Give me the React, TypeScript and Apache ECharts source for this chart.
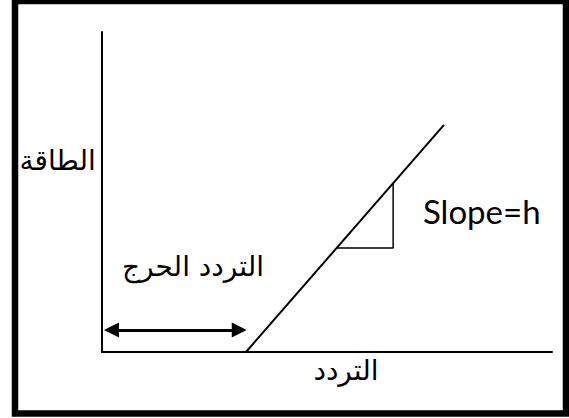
import React, { useEffect, useRef } from "react";
import * as echarts from "echarts";

// Axis ranges (arbitrary units)
const xRange = [0, 10];
const yRange = [0, 10];

// Energy vs frequency line: starts at the critical frequency
const criticalFrequency = 3.2;
const energyLine = [
  [criticalFrequency, 0],
  [7.6, 7.1],
];

// Slope triangle drawn on the line
const slopeTriangle = [
  [5.21, 3.25],
  [6.47, 3.25],
  [6.47, 5.29],
];

// Double arrow marking the critical frequency (arrowhead centres)
const arrowLevel = 0.69;
const arrowStart = 0.21;
const arrowEnd = 3.05;

// Texts
const yAxisLabel = "الطاقة";
const xAxisLabel = "التردد";
const criticalLabel = "التردد الحرج";
const slopeLabel = "Slope=h";

export default function App() {
  const ref = useRef<HTMLDivElement>(null);

  useEffect(() => {
    document.body.style.margin = "0";
    if (!ref.current) return;
    const chart = echarts.init(ref.current, null, { renderer: "svg" });
    const arabicFont = "DejaVu Sans";
    chart.setOption({
      animation: false,
      backgroundColor: "#ffffff",
      grid: { left: 102, top: 32, width: 450, height: 320 },
      xAxis: {
        type: "value",
        min: xRange[0],
        max: xRange[1],
        axisLine: { show: true, onZero: false, lineStyle: { color: "#000", width: 2 } },
        axisTick: { show: false },
        axisLabel: { show: false },
        splitLine: { show: false },
      },
      yAxis: {
        type: "value",
        min: yRange[0],
        max: yRange[1],
        axisLine: { show: true, onZero: false, lineStyle: { color: "#000", width: 2 } },
        axisTick: { show: false },
        axisLabel: { show: false },
        splitLine: { show: false },
      },
      series: [
        {
          type: "line",
          data: energyLine,
          symbol: "none",
          silent: true,
          lineStyle: { color: "#000", width: 2 },
          markLine: {
            silent: true,
            symbol: ["triangle", "triangle"],
            symbolSize: [15, 15],
            label: { show: false },
            lineStyle: { color: "#000", width: 3, type: "solid" },
            emphasis: { disabled: true },
            data: [
              [
                { coord: [arrowStart, arrowLevel] },
                { coord: [arrowEnd, arrowLevel] },
              ],
            ],
          },
        },
        {
          type: "line",
          data: slopeTriangle,
          symbol: "none",
          silent: true,
          lineStyle: { color: "#000", width: 1.5 },
        },
      ],
      graphic: [
        {
          type: "rect",
          shape: { x: 15, y: 1, width: 551, height: 412.5 },
          style: { fill: "none", stroke: "#000", lineWidth: 6.5 },
          silent: true,
        },
        {
          type: "text",
          x: 57.7,
          y: 160,
          style: {
            text: yAxisLabel,
            font: `28px "${arabicFont}"`,
            fill: "#000",
            align: "center",
            verticalAlign: "middle",
          },
        },
        {
          type: "text",
          x: 193,
          y: 266,
          style: {
            text: criticalLabel,
            font: `28px "${arabicFont}"`,
            fill: "#000",
            align: "center",
            verticalAlign: "middle",
          },
        },
        {
          type: "text",
          x: 346,
          y: 370,
          style: {
            text: xAxisLabel,
            font: `28px "${arabicFont}"`,
            fill: "#000",
            align: "center",
            verticalAlign: "middle",
          },
        },
        {
          type: "text",
          x: 423,
          y: 227,
          style: {
            text: slopeLabel,
            font: `33px Lato`,
            fill: "#000",
            align: "left",
            verticalAlign: "bottom",
          },
        },
      ],
    });
    return () => chart.dispose();
  }, []);

  return <div ref={ref} style={{ width: 569, height: 418 }} />;
}
